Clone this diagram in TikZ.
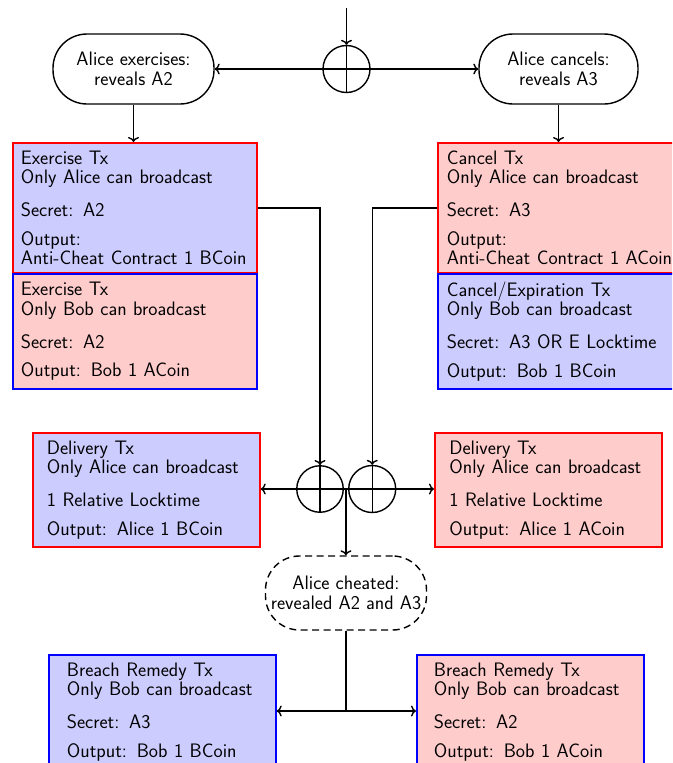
\documentclass[tikz,border=0pt]{standalone}
\usepackage{fontspec}
\usetikzlibrary{shapes.geometric,calc,arrows.meta}
\definecolor{bfill}{RGB}{204,204,255}
\definecolor{rfill}{RGB}{255,204,204}
\newcommand{\gp}{\\[13pt]}
\newcommand{\gq}{\\[9pt]}
\begin{document}
\begin{tikzpicture}[x=1pt,y=-1pt,
  every node/.style={font=\sffamily\fontsize{19.5}{19.7}\selectfont},
  conn/.style={line width=1.4pt},
  arr/.style={conn,-{To[length=5pt,width=11pt]}},
  txbox/.style={draw,line width=1.7pt,align=left,anchor=north west,inner ysep=0pt},
  oval/.style={draw,line width=1.4pt,rounded corners=34pt,minimum width=161pt,minimum height=70pt,align=center,inner sep=0pt},
  xcirc/.style={draw,circle,line width=1.4pt,inner sep=0pt}
]
\useasboundingbox (0,0) rectangle (672,763);
\begin{scope}
\clip (0,0) rectangle (672,763);
% top
\coordinate (top) at (346.5,8);
\node[xcirc,minimum size=47pt] (ct) at (346.5,69) {};
\node[oval] (ex) at (133.5,69) {Alice exercises:\\reveals A2};
\node[oval,minimum width=159pt] (ca) at (558.5,69) {Alice cancels:\\reveals A3};
% transaction boxes
\node[txbox,fill=bfill,draw=red,text width=228pt,inner xsep=8pt,minimum height=130pt] (exA) at (12,142)
 {Exercise Tx\\Only Alice can broadcast\gp Secret: A2\gq Output:\\Anti-Cheat Contract 1 BCoin};
\node[txbox,fill=rfill,draw=blue,text width=228pt,inner xsep=8pt,minimum height=115pt] (exB) at (12,273)
 {Exercise Tx\\Only Bob can broadcast\gp Secret: A2\gq Output: Bob 1 ACoin};
\node[txbox,fill=rfill,draw=red,text width=226pt,inner xsep=9pt,minimum height=130pt] (caA) at (437,142)
 {Cancel Tx\\Only Alice can broadcast\gp Secret: A3\gq Output:\\Anti-Cheat Contract 1 ACoin};
\node[txbox,fill=bfill,draw=blue,text width=226pt,inner xsep=9pt,minimum height=115pt] (caB) at (437,273)
 {Cancel/Expiration Tx\\Only Bob can broadcast\gp Secret: A3 OR E Locktime\gq Output: Bob 1 BCoin};
% delivery
\node[xcirc,minimum size=46.5pt] (cl) at (320,489) {};
\node[xcirc,minimum size=47pt] (cr) at (372.2,489) {};
\node[txbox,fill=bfill,draw=red,text width=199pt,inner xsep=14pt,minimum height=114pt] (dlA) at (32,432)
 {Delivery Tx\\Only Alice can broadcast\gp 1 Relative Locktime\gq Output: Alice 1 BCoin};
\node[txbox,fill=rfill,draw=red,text width=198pt,inner xsep=14.5pt,minimum height=114pt] (dlB) at (434,432)
 {Delivery Tx\\Only Alice can broadcast\gp 1 Relative Locktime\gq Output: Alice 1 ACoin};
\coordinate (mid) at ($(cl.east)!0.5!(cr.west)$);
% cheat
\node[draw,dash pattern=on 7pt off 4.5pt,line width=1.4pt,rounded corners=34pt,minimum width=161pt,minimum height=74pt,inner sep=0pt,align=center] (ch) at (346,593)
 {Alice cheated:\\revealed A2 and A3};
\coordinate (bj) at (346,711);
\node[txbox,fill=bfill,draw=blue,text width=191pt,inner xsep=18pt,minimum height=114pt] (brA) at (48,654)
 {Breach Remedy Tx\\Only Bob can broadcast\gp Secret: A3\gq Output: Bob 1 BCoin};
\node[txbox,fill=rfill,draw=blue,text width=193pt,inner xsep=17pt,minimum height=114pt] (brB) at (416,654)
 {Breach Remedy Tx\\Only Bob can broadcast\gp Secret: A2\gq Output: Bob 1 ACoin};
% connectors
\draw[arr] (top) -- (ct.north);
\draw[conn] (ct.north) -- (ct.south) (ct.west) -- (ct.east);
\draw[arr] (ct.west) -- (ct.west -| ex.east);
\draw[arr] (ct.east) -- (ct.east -| ca.west);
\draw[arr] (ex.south) -- (exA.north -| ex.south);
\draw[arr] (ca.south) -- (caA.north -| ca.south);
\draw[arr] (exA.east) -| (cl.north);
\draw[arr] (caA.west) -| (cr.north);
\draw[conn] (cl.north) -- (cl.south) (cl.west) -- (cl.east);
\draw[conn] (cr.north) -- (cr.south) (cr.west) -- (cr.east);
\draw[conn] (cl.east) -- (cr.west);
\draw[arr] (cl.west) -- (cl.west -| dlA.east);
\draw[arr] (cr.east) -- (cr.east -| dlB.west);
\draw[arr] (mid) -- (mid |- ch.north);
\draw[conn] (ch.south) -- (bj);
\draw[arr] (bj) -- (bj -| brA.east);
\draw[arr] (bj) -- (bj -| brB.west);
\end{scope}
\end{tikzpicture}
\end{document}
